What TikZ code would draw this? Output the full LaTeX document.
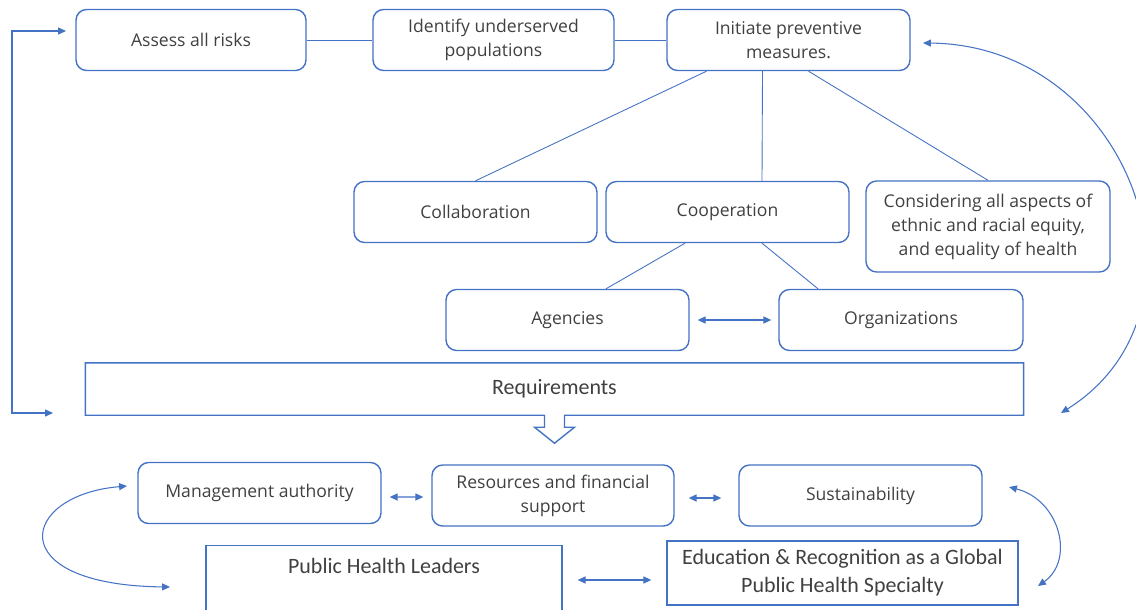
\documentclass[tikz,border=0pt]{standalone}
\usepackage{fontspec}
\setmainfont{Open Sans}
\newfontfamily\calibri{Carlito}
\usepackage{tikz}
\usetikzlibrary{arrows.meta,calc}
\definecolor{boxblue}{HTML}{4472C4}
\definecolor{inkgray}{HTML}{404040}
\tikzstyle{box}=[draw=boxblue,line width=0.8pt,rounded corners=6pt,minimum height=1.22cm,inner sep=2pt,align=center,text=inkgray,font=\fontsize{10}{13.6}\selectfont]
\tikzstyle{bigbox}=[draw=boxblue,line width=0.8pt,inner sep=2pt,align=center,text=inkgray,font=\calibri\fontsize{12.5}{15.9}\selectfont]
\tikzstyle{edge}=[draw=boxblue,line width=0.5pt]
\tikzstyle{link}=[draw=boxblue,line width=0.6pt,arrows={Triangle[length=4.5pt,width=4pt]-Triangle[length=4.5pt,width=4pt]}]

\begin{document}
\begin{tikzpicture}[x=0.02cm,y=-0.02cm]
    \useasboundingbox (0,0) rectangle (1136,609);
    \clip (0,0) rectangle (1136,609);
    % First we draw the rounded boxes
    \foreach \pos/\name/\w/\txt in {{(191,40)/assess/4.6cm/Assess all risks}, {(493.5,40)/identify/4.82cm/Identify underserved\\populations},
        {(788.5,40)/initiate/4.86cm/Initiate preventive\\measures.}, {(475.5,212)/collab/4.86cm/Collaboration}, {(727.5,212)/coop/4.86cm/Cooperation},
        {(567.5,320)/agencies/4.86cm/Agencies}, {(901,320)/orgs/4.88cm/Organizations}, {(259.5,493)/mgmt/4.86cm/Management authority},
        {(553,495.5)/resources/4.84cm/Resources and financial\\support}, {(860.5,495.5)/sustain/4.86cm/Sustainability}}
        \node[box,minimum width=\w] (\name) at \pos {\txt};
    \node[box,minimum width=4.88cm,minimum height=1.82cm] (consider) at (988,226.5) {Considering all aspects of\\ethnic and racial equity,\\and equality of health};

    % Requirements bar with its arrow
    \node[bigbox,draw=none,minimum width=18.74cm,minimum height=1.02cm] (req) at (554.5,389) {Requirements};
    \draw[boxblue,line width=0.8pt] (req.north west) -- (req.north east) -- (req.south east) -- ($(req.south)+(10,0)$) -- ++(0,12) -- ++(10,0)
        -- ($(req.south)+(0,28)$) -- ($(req.south)+(-20,12)$) -- ++(10,0) -- ($(req.south)+(-10,0)$) -- (req.south west) -- cycle;

    % Square boxes at the bottom
    \node[bigbox,minimum width=7.12cm,minimum height=1.6cm,anchor=north] (leaders) at (384,545) {};
    \node[bigbox,draw=none] (leaderstext) at (384,566) {Public Health Leaders};
    \node[bigbox,minimum width=7.02cm,minimum height=1.28cm] (education) at (842.5,573) {Education \& Recognition as a Global\\Public Health Specialty};

    % Connect boxes with plain lines
    \path[edge] (assess) -- (identify);
    \path[edge] (identify) -- (initiate);
    \path[edge] ($(initiate.south)+(-82,0)$) -- (collab.north);
    \path[edge] ($(initiate.south)+(-26,0)$) -- ($(coop.north)+(34.5,0)$);
    \path[edge] ($(initiate.south)+(20,0)$) -- (consider.north);
    \path[edge] ($(coop.south)+(-42.5,0)$) -- ($(agencies.north)+(38.5,0)$);
    \path[edge] ($(coop.south)+(34.5,0)$) -- ($(orgs.north)+(-83,0)$);

    % Two-way arrows
    \draw[link] ($(agencies.east)+(8,0)$) -- ($(orgs.west)+(-7,0)$);
    \draw[link] ($(mgmt.east)+(8,4)$) -- ($(resources.west)+(-8,1.5)$);
    \draw[link] ($(resources.east)+(14,2.5)$) -- ($(sustain.west)+(-17,2.5)$);
    \draw[link] ($(leaders.north east)+(15,35)$) -- ($(education.west)+(-15,7)$);

    % Feedback loops
    \coordinate (fbtop) at (66,31);
    \coordinate (fbbot) at (53,413);
    \draw[link] (fbtop) -- ++(-54,0) |- (fbbot);
    \coordinate (rtop) at (923,43);
    \coordinate (rbot) at (1061,413);
    \draw[link] (rtop) .. controls (1130,45) and (1225,310) .. (rbot);
    \coordinate (mgmtend) at (127,486);
    \coordinate (leadersend) at (170,587);
    \draw[link] (mgmtend) .. controls (20,495) and (0,585) .. (leadersend);
    \coordinate (sustainend) at (1009,487);
    \coordinate (educationend) at (1038,586);
    \draw[link] (sustainend) .. controls (1060,500) and (1075,560) .. (educationend);
\end{tikzpicture}
\end{document}
